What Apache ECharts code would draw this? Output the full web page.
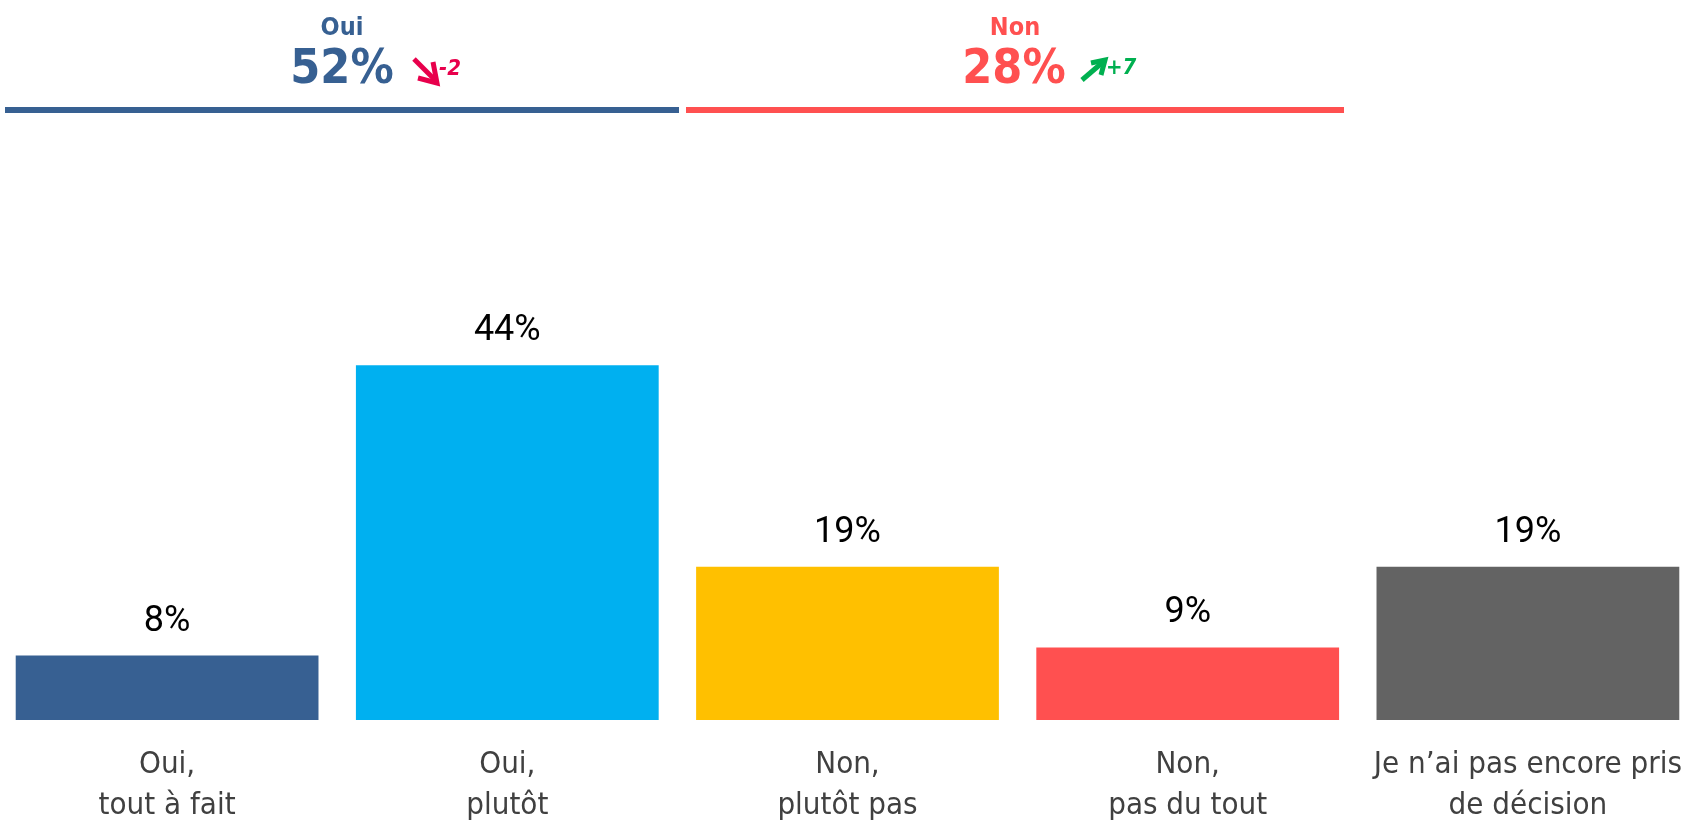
<!DOCTYPE html>
<html>
<head>
<meta charset="utf-8">
<script src="https://cdn.jsdelivr.net/npm/echarts@6/dist/echarts.min.js"></script>
<style>
  html, body { margin: 0; padding: 0; background: #fff; }
  #chart { width: 1685px; height: 820px; }
</style>
</head>
<body>
<div id="chart"></div>
<script>
const categories = [
  "Oui,\ntout à fait",
  "Oui,\nplutôt",
  "Non,\nplutôt pas",
  "Non,\npas du tout",
  "Je n’ai pas encore pris\nde décision"
];
const values = [8, 44, 19, 9, 19];
const barColors = ["#376092", "#00B0F0", "#FFC000", "#FF5050", "#636363"];

const groupNames = ["Oui", "Non"];
const groupTotals = [52, 28];
const groupChanges = [-2, 7];

const condensed = "'DejaVu Sans Condensed', 'DejaVu Sans', sans-serif";

function headerGraphics() {
  const blue = "#376092", red = "#FF5050";
  const downRed = "#E8004C", upGreen = "#00B050";
  const center = { align: "center", verticalAlign: "middle", textAlign: "center", textVerticalAlign: "middle" };
  const left = { align: "left", verticalAlign: "middle", textAlign: "left", textVerticalAlign: "middle" };
  return [
    // group rules
    { type: "rect", shape: { x: 5, y: 107, width: 674, height: 6 }, style: { fill: blue } },
    { type: "rect", shape: { x: 686, y: 107, width: 658, height: 6 }, style: { fill: red } },
    // group names
    { type: "text", x: 342, y: 28, style: Object.assign({ text: groupNames[0], fill: blue, font: "bold 25px " + condensed }, center) },
    { type: "text", x: 1015, y: 28, style: Object.assign({ text: groupNames[1], fill: red, font: "bold 25px " + condensed }, center) },
    // totals
    { type: "text", x: 342, y: 71, style: Object.assign({ text: groupTotals[0] + "%", fill: blue, font: "bold 48px " + condensed }, center) },
    { type: "text", x: 1014, y: 71, style: Object.assign({ text: groupTotals[1] + "%", fill: red, font: "bold 48px " + condensed }, center) },
    // trend arrows
    { type: "polyline", shape: { points: [[414, 59], [436, 81]] }, style: { stroke: downRed, lineWidth: 5, fill: null } },
    { type: "polyline", shape: { points: [[433, 62], [437, 83], [418, 78]] }, style: { stroke: downRed, lineWidth: 5, fill: null, lineJoin: "miter" } },
    { type: "polyline", shape: { points: [[1082, 80], [1103, 62]] }, style: { stroke: upGreen, lineWidth: 5, fill: null } },
    { type: "polyline", shape: { points: [[1091, 63], [1105, 60], [1101, 75]] }, style: { stroke: upGreen, lineWidth: 5, fill: null, lineJoin: "miter" } },
    // changes
    { type: "text", x: 439, y: 69, style: Object.assign({ text: String(groupChanges[0]), fill: downRed, font: "italic bold 22px " + condensed }, left) },
    { type: "text", x: 1106, y: 68, style: Object.assign({ text: "+" + groupChanges[1], fill: upGreen, font: "italic bold 22px " + condensed }, left) }
  ];
}

const chart = echarts.init(document.getElementById("chart"));
chart.setOption({
  animation: false,
  grid: { left: -3, right: -13, top: 317, bottom: 100, containLabel: false, outerBoundsMode: "none" },
  xAxis: {
    type: "category",
    data: categories,
    axisLine: { show: false },
    axisTick: { show: false },
    axisLabel: {
      interval: 0,
      margin: 24,
      color: "#404040",
      fontFamily: condensed,
      fontSize: 31,
      lineHeight: 41
    }
  },
  yAxis: { type: "value", min: 0, max: 50, show: false, splitLine: { show: false } },
  series: [
    {
      type: "bar",
      barCategoryGap: "11%",
      data: values.map((v, i) => ({ value: v, itemStyle: { color: barColors[i] } })),
      label: {
        show: true,
        position: "top",
        distance: 16,
        formatter: "{c}%",
        color: "#000",
        fontFamily: "Roboto, sans-serif",
        fontSize: 36
      }
    }
  ],
  graphic: headerGraphics()
});
</script>
</body>
</html>
